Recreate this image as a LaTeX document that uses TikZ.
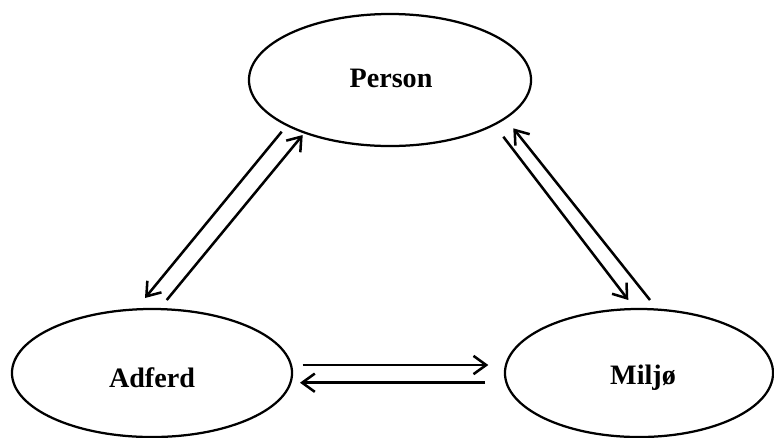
\documentclass[tikz,border=0pt]{standalone}
\usepackage{fontspec}
\setmainfont{Liberation Serif}
\usetikzlibrary{shapes.geometric,arrows.meta}

\tikzset{
    factor/.style={ellipse,draw,line width=1.6pt,inner sep=0pt},
    label/.style={font=\bfseries\fontsize{20}{24}\selectfont},
    arr/.style={line width=1.8pt,-{Straight Barb[length=9pt,width=13pt,line width=1.8pt]}}
}

\begin{document}
\begin{tikzpicture}[x=0.025cm,y=-0.025cm]
    \useasboundingbox (0,0) rectangle (774,437);

    \node[factor,minimum width=7.05cm,minimum height=3.3cm](person)at(390,80){};
    \node[factor,minimum width=7cm,minimum height=3.2cm](adferd)at(152,373){};
    \node[factor,minimum width=6.7cm,minimum height=3.2cm](miljo)at(639,373){};
    \node[label](tperson)at(391,78){Person};
    \node[label](tadferd)at(152,378){Adferd};
    \node[label](tmiljo)at(643,378){Miljø};

    % person <-> adferd
    \draw[arr]([shift={(-108.3,51.7)}]person.center)--([shift={(-7,-75)}]adferd.center);
    \draw[arr]([shift={(14.7,-73)}]adferd.center)--([shift={(-87.3,55)}]person.center);
    % person <-> miljo
    \draw[arr]([shift={(113.3,56.7)}]person.center)--([shift={(-10.7,-73)}]miljo.center);
    \draw[arr]([shift={(11,-73)}]miljo.center)--([shift={(123.3,48.3)}]person.center);
    % adferd <-> miljo
    \draw[arr]([shift={(150.7,-8)}]adferd.center)--([shift={(-150.7,-8)}]miljo.center);
    \draw[arr]([shift={(-154,9.7)}]miljo.center)--([shift={(148,9.7)}]adferd.center);
\end{tikzpicture}
\end{document}
